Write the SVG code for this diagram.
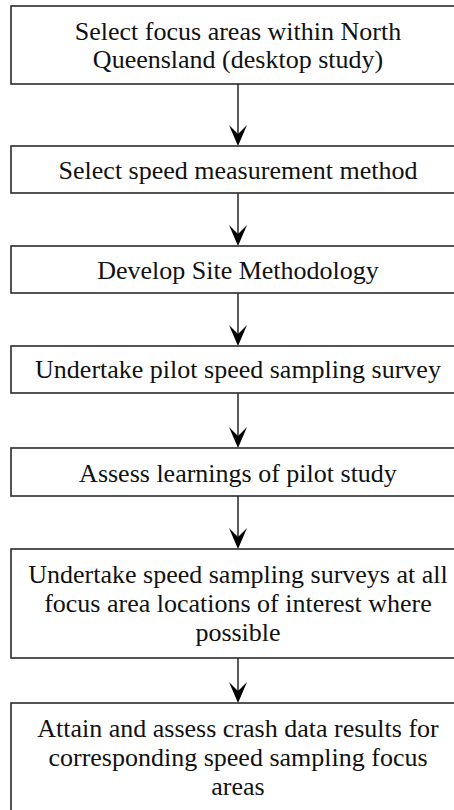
<svg xmlns="http://www.w3.org/2000/svg" width="454" height="810" viewBox="0 0 454 810">
<defs>
<style>
.box{fill:#fff;stroke:#2a2a2a;stroke-width:1.6}
.t{font-family:"Liberation Serif","Times New Roman",serif;font-size:26px;fill:#111;text-anchor:middle}
.ln{stroke:#333;stroke-width:1.6;fill:none}
.ah{fill:#000}
</style>
</defs>
<rect width="454" height="810" fill="#fff"/>
<g id="connectors">
<line class="ln" x1="238" y1="84" x2="238" y2="136"/>
<path class="ah" d="M238,146 L229,125 L238,134 L247,125 Z"/>
<line class="ln" x1="238" y1="193" x2="238" y2="236"/>
<path class="ah" d="M238,246 L229,225 L238,234 L247,225 Z"/>
<line class="ln" x1="238" y1="293" x2="238" y2="336"/>
<path class="ah" d="M238,346 L229,325 L238,334 L247,325 Z"/>
<line class="ln" x1="238" y1="393" x2="238" y2="438"/>
<path class="ah" d="M238,448 L229,427 L238,436 L247,427 Z"/>
<line class="ln" x1="238" y1="496" x2="238" y2="539"/>
<path class="ah" d="M238,549 L229,528 L238,537 L247,528 Z"/>
<line class="ln" x1="238" y1="658" x2="238" y2="693"/>
<path class="ah" d="M238,703 L229,682 L238,691 L247,682 Z"/>
</g>
<g id="n1">
<rect class="box" x="11" y="6" width="456" height="78"/>
<text class="t" x="238" y="40">Select focus areas within North</text>
<text class="t" x="238" y="68">Queensland (desktop study)</text>
</g>
<g id="n2">
<rect class="box" x="11" y="146" width="456" height="47"/>
<text class="t" x="238" y="179">Select speed measurement method</text>
</g>
<g id="n3">
<rect class="box" x="11" y="246" width="456" height="47"/>
<text class="t" x="238" y="279">Develop Site Methodology</text>
</g>
<g id="n4">
<rect class="box" x="11" y="346" width="456" height="47"/>
<text class="t" x="238" y="378">Undertake pilot speed sampling survey</text>
</g>
<g id="n5">
<rect class="box" x="11" y="448" width="456" height="48"/>
<text class="t" x="238" y="482">Assess learnings of pilot study</text>
</g>
<g id="n6">
<rect class="box" x="11" y="549" width="456" height="109"/>
<text class="t" x="238" y="583">Undertake speed sampling surveys at all</text>
<text class="t" x="238" y="612">focus area locations of interest where</text>
<text class="t" x="238" y="641">possible</text>
</g>
<g id="n7">
<rect class="box" x="11" y="703" width="456" height="120"/>
<text class="t" x="238" y="737">Attain and assess crash data results for</text>
<text class="t" x="238" y="766">corresponding speed sampling focus</text>
<text class="t" x="238" y="795">areas</text>
</g>
</svg>
